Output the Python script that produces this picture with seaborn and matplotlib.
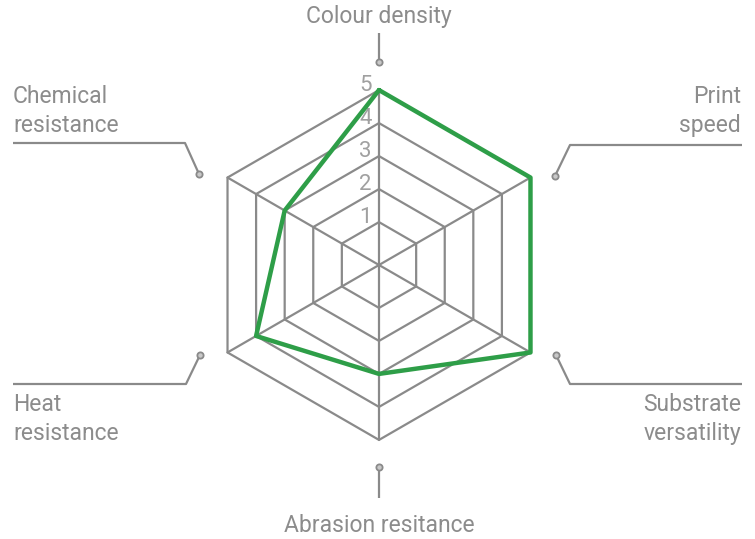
import numpy as np
import pandas as pd
import matplotlib.pyplot as plt
import seaborn as sns

# data
categories = ['Colour density', 'Print speed', 'Substrate versatility',
              'Abrasion resitance', 'Heat resistance', 'Chemical resistance']
scores = [5, 5, 5, 3, 4, 3]
levels = [1, 2, 3, 4, 5]
level_labels = ['1', '2', '3', '4', '5']

GREY = '#8a8a8a'
GREEN = '#2e9e48'

sns.set_style("white")
plt.rcParams['font.family'] = ['Roboto', 'DejaVu Sans']

W, H = 755, 539
fig = plt.figure(figsize=(W / 100, H / 100), dpi=100)

# polar axes centred at (379, 265) px, radius 200 px
cx, cy, R = 379, 265, 200
R0 = -0.3
ax = fig.add_axes([(cx - R) / W, (H - cy - R) / H, 2 * R / W, 2 * R / H], projection='polar')
ax.set_theta_offset(np.pi / 2)
ax.set_theta_direction(-1)
ax.set_ylim(R0, 5.76)
ax.set_axis_off()

n = len(categories)
angles = np.arange(n) * 2 * np.pi / n
closed = np.append(angles, angles[0])

# hexagonal rings
for lv in levels:
    ax.plot(closed, [lv] * (n + 1), color=GREY, lw=1.6, zorder=1)
# spokes
for a in angles:
    ax.plot([a, a], [R0, levels[-1]], color=GREY, lw=1.6, zorder=1)

# level numbers
for lv, lab in zip(levels, level_labels):
    ax.annotate(lab, xy=(0, lv), xytext=(-7, 5), textcoords='offset pixels',
                ha='right', va='center', fontsize=16,
                color='#a0a0a0', zorder=2)

# score polygon
df = pd.DataFrame({'theta': closed, 'r': scores + scores[:1]})
sns.lineplot(data=df, x='theta', y='r', sort=False, estimator=None, ax=ax,
             color=GREEN, lw=3.2, zorder=3)
ax.set_xlabel('')
ax.set_ylabel('')

# overlay for labels and leader lines (pixel coordinates)
ov = fig.add_axes([0, 0, 1, 1])
ov.set_xlim(0, W)
ov.set_ylim(H, 0)
ov.set_axis_off()
ov.patch.set_alpha(0)

leaders = [
    [(379, 62), (379, 33)],
    [(555, 176), (570, 145), (742, 145)],
    [(556, 355), (570, 384), (742, 384)],
    [(379, 467), (379, 498)],
    [(200, 355), (186, 384), (13, 384)],
    [(199, 174), (185, 143), (13, 143)],
]
for pts in leaders:
    xs, ys = zip(*pts)
    ov.plot(xs, ys, color=GREY, lw=1.6, solid_capstyle='butt')
    ov.plot(xs[0], ys[0], 'o', ms=4.5, mfc='#c8c8c8', mec=GREY, mew=1.3)

txt = dict(fontsize=16.5, color='#8c8c8c')
ov.text(379, 17, 'Colour density', ha='center', va='center', **txt)
ov.text(741, 111, 'Print\nspeed', ha='right', va='center', multialignment='right',
        linespacing=1.3, **txt)
ov.text(741, 419, 'Substrate\nversatility', ha='right', va='center', multialignment='right',
        linespacing=1.3, **txt)
ov.text(379, 525, 'Abrasion resitance', ha='center', va='center', **txt)
ov.text(13, 419, 'Heat\nresistance', ha='left', va='center', linespacing=1.3, **txt)
ov.text(13, 111, 'Chemical\nresistance', ha='left', va='center', linespacing=1.3, **txt)

plt.savefig('out.png', dpi=100)
